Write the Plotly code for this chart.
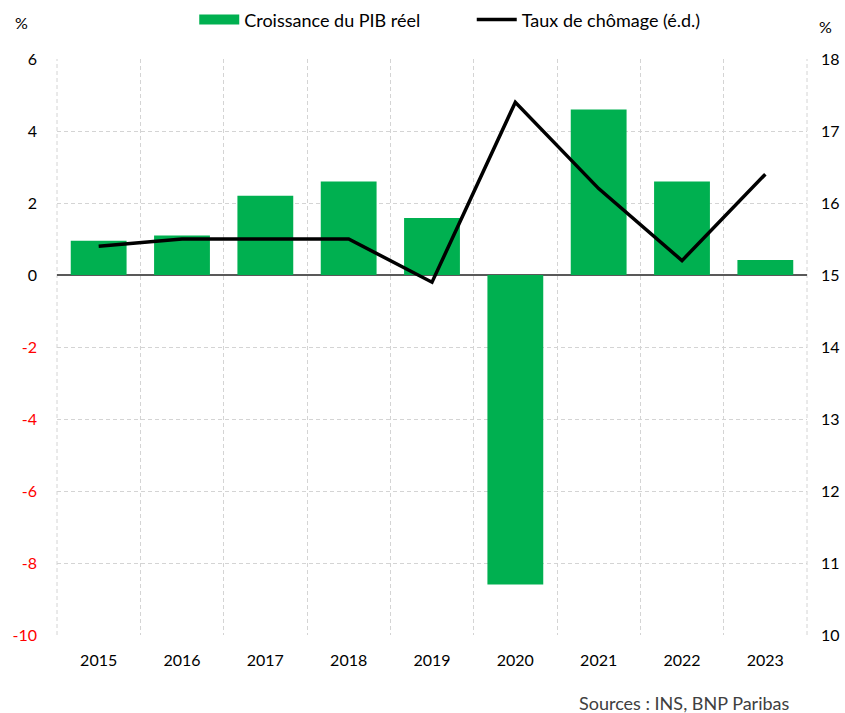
import plotly.graph_objects as go

years = ["2015", "2016", "2017", "2018", "2019", "2020", "2021", "2022", "2023"]
gdp_growth = [0.95, 1.1, 2.2, 2.6, 1.58, -8.6, 4.6, 2.6, 0.42]
unemployment = [15.4, 15.5, 15.5, 15.5, 14.9, 17.4, 16.2, 15.2, 16.4]
left_ticks = [6, 4, 2, 0, -2, -4, -6, -8, -10]
right_ticks = [18, 17, 16, 15, 14, 13, 12, 11, 10]

FONT = "Lato, Carlito, Calibri, sans-serif"
GREEN = "#00B050"

left_text = [
    (f"<span style='color:#FF0000'>{v}</span>" if v < 0 else str(v)) for v in left_ticks
]

fig = go.Figure()
fig.add_trace(go.Bar(
    x=years, y=gdp_growth, name="Croissance du PIB réel",
    marker=dict(color=GREEN, line=dict(width=0)),
    yaxis="y", showlegend=False,
))
# legend entry shaped like the reference's wide green rectangle
fig.add_trace(go.Scatter(
    x=[None], y=[None], name="Croissance du PIB réel", mode="lines",
    line=dict(color=GREEN, width=14), yaxis="y", showlegend=True, legend="legend",
))
fig.add_trace(go.Scatter(
    x=years, y=unemployment, name="Taux de chômage (é.d.)",
    mode="lines", line=dict(color="black", width=3.5),
    yaxis="y2", legend="legend2",
))

grid = "#D4D4D4"
leg_common = dict(orientation="h", yanchor="middle", y=1.068, xanchor="left",
                  font=dict(size=18), bgcolor="rgba(0,0,0,0)", itemwidth=40)
fig.update_layout(
    width=845, height=713,
    margin=dict(l=57, r=38, t=59, b=78, autoexpand=False),
    paper_bgcolor="white", plot_bgcolor="white",
    font=dict(family=FONT, size=16, color="black"),
    bargap=0.33,
    showlegend=True,
    legend=dict(x=0.183, **leg_common),
    legend2=dict(x=0.553, **leg_common),
    xaxis=dict(
        type="category", tickson="boundaries", showgrid=True,
        gridcolor=grid, griddash="4px,3px", gridwidth=1,
        ticks="", showline=False, tickfont=dict(size=16),
        range=[-0.5, 8.5], ticklabelstandoff=14,
    ),
    yaxis=dict(
        range=[-10, 6], tickvals=left_ticks, ticktext=left_text,
        showgrid=True, gridcolor=grid, griddash="4px,3px", gridwidth=1,
        zeroline=True, zerolinecolor="#595959", zerolinewidth=1.5,
        ticks="", showline=False, tickfont=dict(size=16), ticklabelstandoff=19,
    ),
    yaxis2=dict(
        range=[10, 18], tickvals=right_ticks, overlaying="y", side="right",
        showgrid=False, zeroline=False, ticks="", showline=False,
        tickfont=dict(size=16), ticklabelstandoff=13,
    ),
    shapes=[
        dict(type="line", xref="paper", yref="paper", x0=0, x1=0, y0=0, y1=1,
             line=dict(color=grid, width=1, dash="4px,3px"), layer="below"),
        dict(type="line", xref="paper", yref="paper", x0=1, x1=1, y0=0, y1=1,
             line=dict(color=grid, width=1, dash="4px,3px"), layer="below"),
    ],
    annotations=[
        dict(text="%", xref="paper", yref="paper", x=-0.047, y=1.063,
             xanchor="center", yanchor="middle", showarrow=False, font=dict(size=16)),
        dict(text="%", xref="paper", yref="paper", x=1.024, y=1.056,
             xanchor="center", yanchor="middle", showarrow=False, font=dict(size=16)),
        dict(text="Sources : INS, BNP Paribas", xref="paper", yref="paper",
             x=0.978, y=-0.118, xanchor="right", yanchor="middle",
             showarrow=False, font=dict(size=18, color="#404040")),
    ],
)

fig.write_html(
    "out.html",
    config={"displayModeBar": False},
    post_script="document.body.style.margin='0';document.body.style.overflow='hidden';",
)
